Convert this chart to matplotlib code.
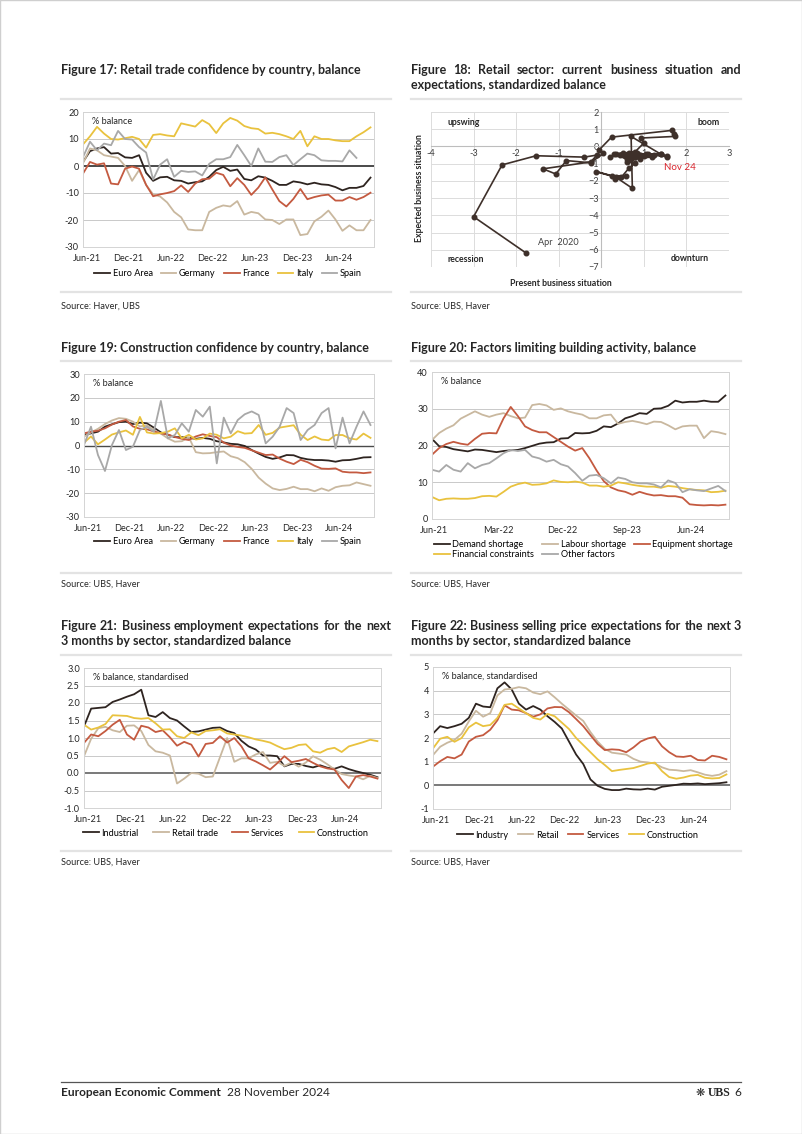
import numpy as np
import matplotlib
matplotlib.use("Agg")
import matplotlib.pyplot as plt
from matplotlib.patches import Rectangle

# ---- data -------------------------------------------------------------
# Figure 17: retail trade confidence (Jun-21 .. Nov-24, monthly)
f17_euro = [1.5, 5.5, 6.5, 7.0, 4.6, 4.8, 3.2, 3.0, 4.0, -2.5, -5.5, -4.2, -4.0, -5.3, -5.5, -6.5, -6.0,
            -5.7, -4.0, -1.5, -0.3, -1.8, -1.3, -4.8, -5.3, -3.8, -4.3, -5.5, -7.0, -7.0, -5.7, -6.1, -6.8,
            -6.2, -6.8, -7.0, -7.8, -9.0, -8.1, -8.1, -7.4, -4.3]
f17_germany = [1.0, 6.5, 5.8, 4.0, 3.5, 3.0, 0.0, -5.5, -1.5, -7.0, -10.5, -11.3, -13.5, -17.0, -19.0, -23.5,
               -23.8, -23.8, -17.0, -15.5, -14.6, -15.0, -13.0, -18.0, -17.0, -17.5, -19.8, -20.0, -21.5,
               -19.8, -19.8, -25.6, -25.2, -20.5, -18.8, -16.5, -19.8, -24.0, -22.0, -23.8, -23.8, -20.0]
f17_france = [-2.8, 1.5, 0.5, 1.0, -6.5, -6.8, -1.0, -0.2, -1.0, -7.0, -11.2, -10.5, -10.0, -9.3, -7.2, -9.6,
              -6.5, -4.9, -4.7, -2.5, -3.3, -7.5, -4.5, -7.0, -10.7, -8.0, -4.2, -8.7, -13.0, -15.0, -12.2,
              -8.5, -12.3, -11.5, -10.9, -10.6, -12.8, -12.8, -11.5, -12.5, -11.5, -9.9]
f17_italy = [8.0, 11.0, 14.5, 12.0, 10.0, 9.8, 10.3, 10.8, 10.0, 6.8, 11.5, 11.8, 11.3, 11.0, 15.8, 15.2, 14.6,
             17.0, 15.5, 12.2, 15.8, 17.8, 16.8, 14.8, 14.0, 13.7, 12.0, 12.3, 11.8, 11.0, 10.0, 13.0, 7.3,
             11.0, 10.0, 10.0, 9.5, 9.2, 9.2, 11.0, 12.5, 14.3]
f17_spain = [3.3, 9.0, 5.8, 8.3, 7.7, 13.0, 10.0, 9.8, 7.0, 5.0, -5.0, 0.5, 2.5, -4.0, -1.8, -2.2, -2.0, -3.5,
             0.8, 2.5, 2.5, 3.3, 7.8, 4.0, 0.0, 6.5, 1.6, 1.5, 3.3, 4.0, 0.3, 2.5, 4.6, 4.0, 2.1, 1.9, 1.9,
             1.7, 5.8, 3.0]

# Figure 18: retail sector, present (x) vs expected (y) business situation, Apr-20 .. Nov-24
f18_present = [-1.76, -3.0, -2.33, -1.53, -0.4, -0.1, -0.25, -1.37, -1.07, -0.82, -0.25, 0.05, -0.05,
               0.24, 1.65, 1.7, 1.72, 0.94, 1.0, 0.8, 0.3, 0.5, 1.4, 0.7, 0.73, 0.35, -0.12, 0.25, 0.59,
               0.33, 0.47, 0.65, 0.8, 0.6, 0.7, 0.75, 1.0, 0.8, 0.6, 0.45, 0.2, 0.65, 0.9, 1.1, 1.2, 0.9,
               0.55, 0.35, 0.5, 0.8, 0.85, 1.05, 1.4, 1.55, 1.25, 1.55]
f18_expected = [-6.2, -4.08, -1.07, -0.54, -0.62, -0.5, -0.9, -1.3, -1.6, -0.82, -0.95, -0.4, -0.2, 0.54,
                0.93, 0.75, 0.58, 0.49, 0.2, -0.3, -0.45, -0.4, -0.45, 0.58, -2.43, -1.8, -1.46, -1.7,
                -1.71, -1.88, -1.79, -1.26, -0.97, -0.9, -0.75, -0.5, -0.55, -0.6, -0.7, -0.5, -0.6, -0.4,
                -0.5, -0.45, -0.6, -0.7, -0.55, -0.45, -0.5, -0.6, -0.4, -0.45, -0.45, -0.55, -0.5, -0.6]

# Figure 19: construction confidence
f19_euro = [4.4, 5.1, 5.8, 7.9, 8.9, 9.8, 10.0, 9.0, 9.6, 9.3, 7.5, 5.5, 4.5, 3.5, 3.5, 3.2, 2.8, 3.2, 2.8,
            1.8, 1.3, 0.7, 0.5, -0.2, -1.9, -3.4, -4.8, -5.6, -5.0, -4.0, -4.1, -5.2, -5.8, -6.1, -6.1,
            -6.3, -6.8, -6.2, -6.1, -5.6, -5.0, -4.9]
f19_germany = [3.7, 5.5, 7.0, 9.0, 10.5, 11.5, 11.2, 10.0, 8.0, 8.5, 6.5, 5.0, 3.0, 1.6, 1.8, 3.5, -2.8, -3.3,
               -3.2, -2.8, -2.5, -4.5, -5.3, -7.0, -9.8, -13.5, -16.0, -18.0, -18.7, -18.2, -17.3, -18.3,
               -18.3, -19.2, -18.0, -19.0, -17.5, -16.9, -16.7, -15.5, -16.2, -16.9]
f19_france = [5.1, 5.8, 6.2, 7.2, 8.8, 10.0, 10.7, 8.0, 7.0, 6.8, 5.9, 5.1, 4.6, 3.6, 2.8, 2.3, 3.8, 4.7, 4.0,
              3.5, 1.2, 0.0, -0.6, -1.0, -2.0, -3.0, -4.0, -3.8, -5.5, -6.8, -7.8, -6.0, -7.0, -8.5, -9.7,
              -9.8, -9.6, -11.0, -11.3, -11.3, -11.6, -11.3]
f19_italy = [1.2, 3.8, 0.5, 2.5, 4.6, 5.5, 6.3, 4.5, 12.0, 5.5, 5.0, 5.2, 5.8, 7.2, 3.0, 4.5, 2.5, 3.0, 5.0,
             4.5, 3.0, 3.7, 6.0, 5.0, 5.2, 8.6, 4.5, 5.3, 7.5, 8.0, 8.5, 4.5, 2.3, 3.8, 2.5, 2.2, 4.4, 4.4,
             3.0, 2.5, 5.0, 3.2]
f19_spain = [0.2, 7.9, -4.0, -10.7, 0.2, 6.5, -1.9, -0.5, 6.5, 7.9, 5.8, 18.7, 3.0, 4.4, 9.3, 5.8, 14.9, 12.1,
             16.3, -7.5, 11.7, 5.1, 10.7, 13.1, 14.3, 12.8, 0.9, 3.7, 7.9, 15.7, 13.6, 2.3, 6.5, 8.6, 13.6,
             15.7, -1.2, 11.7, 0.9, 7.9, 14.3, 8.6]

# Figure 20: factors limiting building activity
f20_demand = [21.8, 19.8, 19.6, 19.0, 18.7, 18.4, 18.9, 18.8, 18.5, 18.2, 18.5, 18.7, 18.8, 19.3, 19.9, 20.5,
              20.8, 20.9, 21.9, 22.0, 23.4, 23.3, 23.4, 24.0, 25.2, 25.0, 26.0, 27.4, 28.0, 28.8, 28.6, 30.0,
              30.1, 30.8, 32.2, 31.7, 31.9, 31.9, 32.2, 31.9, 31.9, 33.6]
f20_labour = [21.5, 23.4, 24.6, 25.5, 27.3, 28.3, 29.3, 28.4, 27.8, 28.4, 28.8, 28.0, 27.4, 27.6, 31.0, 31.3,
              30.9, 29.7, 30.1, 29.3, 28.8, 28.4, 27.4, 27.4, 28.2, 28.4, 25.9, 26.4, 26.7, 26.3, 25.8, 26.5,
              26.4, 25.5, 24.4, 25.2, 25.4, 25.4, 22.0, 23.9, 23.6, 23.1]
f20_equipment = [17.5, 19.3, 20.4, 21.0, 20.5, 20.2, 21.8, 23.2, 23.4, 23.3, 27.4, 30.5, 28.0, 25.2, 24.2,
                 23.6, 23.6, 22.3, 21.0, 19.7, 18.6, 19.3, 16.5, 13.2, 10.3, 8.6, 7.8, 7.4, 6.6, 7.4, 6.8,
                 6.4, 6.5, 6.2, 6.2, 5.8, 4.0, 3.8, 3.7, 3.8, 3.7, 3.9]
f20_financial = [6.0, 5.1, 5.5, 5.6, 5.5, 5.5, 5.7, 6.2, 6.3, 6.1, 7.4, 8.8, 9.5, 9.9, 9.3, 9.4, 9.7, 10.5,
                 10.1, 10.0, 10.2, 9.9, 9.1, 9.1, 8.8, 9.1, 10.0, 9.7, 9.3, 9.0, 8.8, 8.8, 8.5, 9.0, 8.8,
                 8.4, 8.1, 7.9, 7.8, 7.3, 7.4, 7.7]
f20_other = [13.4, 12.9, 14.7, 13.4, 12.9, 15.2, 13.8, 14.7, 15.2, 16.5, 17.9, 18.8, 18.5, 18.8, 17.0, 16.5,
             15.6, 16.1, 14.9, 14.3, 12.5, 10.4, 11.8, 12.0, 11.1, 9.7, 11.3, 10.9, 10.0, 9.7, 9.7, 9.4,
             8.6, 10.5, 9.8, 7.3, 8.1, 7.8, 7.6, 8.3, 9.0, 7.6]

# Figure 21: employment expectations, standardised
f21_industrial = [1.33, 1.84, 1.86, 1.88, 2.03, 2.1, 2.18, 2.25, 2.38, 1.65, 1.6, 1.74, 1.57, 1.5, 1.33, 1.17,
                  1.19, 1.24, 1.29, 1.3, 1.2, 1.14, 0.92, 0.76, 0.67, 0.5, 0.5, 0.48, 0.19, 0.26, 0.26, 0.2,
                  0.16, 0.22, 0.15, 0.12, 0.19, 0.11, 0.05, 0.0, -0.05, -0.12]
f21_retail = [0.48, 0.98, 1.28, 1.32, 1.22, 1.17, 1.35, 1.36, 1.2, 0.8, 0.62, 0.58, 0.5, -0.3, -0.16, 0.0,
              -0.02, -0.12, -0.1, 0.45, 1.0, 0.32, 0.42, 0.42, 0.53, 0.6, 0.29, 0.32, 0.2, 0.3, 0.18, 0.3,
              0.48, 0.38, 0.25, 0.1, -0.03, -0.07, -0.1, -0.18, -0.08, -0.14]
f21_services = [0.86, 1.1, 1.05, 1.2, 1.38, 1.52, 1.1, 0.95, 1.35, 1.3, 1.17, 1.22, 1.02, 0.78, 0.89, 0.81,
                0.47, 0.83, 0.86, 1.05, 0.87, 1.0, 0.76, 0.42, 0.33, 0.22, 0.1, 0.28, 0.48, 0.31, 0.35, 0.4,
                0.29, 0.19, 0.13, 0.1, -0.2, -0.43, -0.1, -0.06, -0.1, -0.16]
f21_construction = [1.38, 1.24, 1.3, 1.4, 1.65, 1.64, 1.63, 1.57, 1.55, 1.57, 1.42, 1.24, 1.25, 1.05, 1.0,
                    1.16, 1.08, 1.2, 1.22, 1.25, 1.13, 1.1, 1.07, 1.02, 0.96, 0.92, 0.87, 0.77, 0.68, 0.72,
                    0.8, 0.82, 0.62, 0.58, 0.68, 0.72, 0.6, 0.76, 0.82, 0.88, 0.95, 0.91]

# Figure 22: selling price expectations, standardised
f22_industry = [2.19, 2.5, 2.42, 2.5, 2.6, 2.85, 3.45, 3.33, 3.3, 4.1, 4.35, 4.05, 3.45, 3.2, 3.35, 3.2, 2.92,
                2.68, 2.4, 1.85, 1.3, 0.9, 0.25, -0.02, -0.15, -0.2, -0.2, -0.14, -0.17, -0.18, -0.14,
                -0.18, -0.06, -0.02, 0.02, 0.07, 0.06, 0.08, 0.05, 0.07, 0.09, 0.13]
f22_retail = [1.28, 1.63, 1.8, 1.92, 2.18, 2.7, 3.15, 2.9, 3.05, 3.8, 4.05, 4.08, 4.15, 4.1, 3.92, 3.85, 3.97,
              3.72, 3.45, 3.2, 2.95, 2.72, 2.25, 1.85, 1.54, 1.38, 1.34, 1.3, 1.12, 1.0, 0.97, 0.92, 0.76,
              0.66, 0.64, 0.6, 0.64, 0.55, 0.45, 0.4, 0.45, 0.6]
f22_services = [0.79, 1.02, 1.2, 1.14, 1.3, 1.85, 2.05, 2.12, 2.35, 2.75, 3.38, 3.2, 3.17, 3.05, 2.9, 3.0,
                3.25, 3.31, 3.3, 3.09, 2.8, 2.5, 2.12, 1.75, 1.49, 1.52, 1.5, 1.4, 1.6, 1.85, 1.98, 2.05,
                1.65, 1.4, 1.22, 1.2, 1.25, 1.07, 1.05, 1.25, 1.2, 1.1]
f22_construction = [1.56, 1.97, 2.05, 1.84, 2.0, 2.45, 2.65, 2.5, 2.55, 2.85, 3.4, 3.45, 3.25, 3.05, 2.85,
                    2.78, 3.02, 2.92, 2.65, 2.38, 2.0, 1.7, 1.4, 1.1, 0.86, 0.6, 0.65, 0.69, 0.73, 0.82,
                    0.92, 0.96, 0.6, 0.35, 0.28, 0.33, 0.41, 0.44, 0.32, 0.29, 0.31, 0.46]

half_year_labels = ["Jun-21", "Dec-21", "Jun-22", "Dec-22", "Jun-23", "Dec-23", "Jun-24"]
nine_month_labels = ["Jun-21", "Mar-22", "Dec-22", "Sep-23", "Jun-24"]

# ---- style --------------------------------------------------------------
BLACK, TAN, RED, YEL, GRAY = "#2e2420", "#c9b89f", "#c45a40", "#e9c23e", "#a8a8a8"
BROWN = "#3e302a"
TXT = "#262626"
BODY = ["Lato", "DejaVu Sans"]
HEAD = ["Lato", "DejaVu Sans"]
plt.rcParams["font.family"] = BODY
FS = 6.6

W, H = 802, 1134
fig = plt.figure(figsize=(W / 100, H / 100), dpi=100)
fig.patch.set_facecolor("white")
rend = fig.canvas.get_renderer()


def fx(x):
    return x / W


def fy(y):
    return 1 - y / H


def box(x0, y0, x1, y1):
    return [x0 / W, 1 - y1 / H, (x1 - x0) / W, (y1 - y0) / H]


def hline(x0, x1, y, color="#e3e3e3", lw=1.6):
    fig.add_artist(plt.Line2D([fx(x0), fx(x1)], [fy(y), fy(y)], color=color, lw=lw))


# title size chosen so that the Figure 17 title spans the same width as in the page
probe = fig.text(0, 0, "Figure 17: Retail trade confidence by country, balance", family=HEAD,
                 fontsize=10, fontweight="bold")
TSIZE = 10 * 302 / probe.get_window_extent(rend).width
probe.remove()


def justified(words, x0, x1, y, **kw):
    texts = [fig.text(0, fy(y), w, va="center", **kw) for w in words]
    widths = [t.get_window_extent(rend).width for t in texts]
    gap = (x1 - x0 - sum(widths)) / (len(words) - 1)
    x = x0
    for t, w in zip(texts, widths):
        t.set_x(fx(x))
        x += w + gap


def title(lines, x0, x1, y0, justify_first=False):
    kw = dict(family=HEAD, fontsize=TSIZE, fontweight="bold", color=TXT)
    for k, line in enumerate(lines):
        y = y0 + 15 * k
        if justify_first and k == 0 and len(lines) > 1:
            justified(line.split(" "), x0, x1, y, **kw)
        else:
            fig.text(fx(x0), fy(y), line, va="center", **kw)


def source(text, x0, y):
    fig.text(fx(x0), fy(y), text, fontsize=FS, color=TXT, va="center")


def ts_chart(rect, series, ylim, yticks, yfmt, unit, labels, step, offset, legend_at,
             ncol, legend_loc="center", legend_order=None, colspace=1.0, zero=True,
             zero_color="#4a4a4a", zero_lw=1.4):
    ax = fig.add_axes(box(*rect))
    n = len(series[0][1])
    for name, vals, col in series:
        ax.plot(np.arange(len(vals)), vals, color=col, lw=1.3, label=name, solid_joinstyle="round")
    ax.set_xlim(0, n - 0.5)
    ax.set_ylim(*ylim)
    ax.set_yticks(yticks)
    ax.set_yticklabels([yfmt.format(v) for v in yticks])
    for v in yticks:
        if zero and v == 0:
            ax.axhline(v, color=zero_color, lw=zero_lw, zorder=1)
        else:
            ax.axhline(v, color="#c9c9c9", lw=0.7, zorder=0)
    ax.set_xticks([step * k + offset for k in range(len(labels))])
    ax.set_xticklabels(labels)
    for s in ax.spines.values():
        s.set_color("#d4d4d4")
        s.set_linewidth(0.7)
    ax.tick_params(length=0, labelsize=FS, colors=TXT)
    ax.tick_params(axis="y", pad=3)
    ax.tick_params(axis="x", pad=5)
    ax.text(0.03, 0.965, unit, transform=ax.transAxes, fontsize=FS, color=TXT, va="top")
    handles, names = ax.get_legend_handles_labels()
    if legend_order is not None:
        handles = [handles[i] for i in legend_order]
        names = [names[i] for i in legend_order]
    fig.legend(handles, names, loc=legend_loc, bbox_to_anchor=legend_at, ncol=ncol,
               frameon=False, fontsize=FS, handlelength=1.7, handletextpad=0.3, columnspacing=colspace,
               labelspacing=0.1, borderaxespad=0, borderpad=0)
    return ax


# ---- page furniture -------------------------------------------------------
fig.add_artist(Rectangle((0, 0), 1, 1, transform=fig.transFigure, fill=False, ec="#cfcfcf", lw=1))

LX0, LX1, RX0, RX1 = 61, 391, 411, 741

title(["Figure 17: Retail trade confidence by country, balance"], LX0, LX1, 70)
title(["Figure 18: Retail sector: current business situation and",
       "expectations, standardized balance"], RX0, RX1, 70, justify_first=True)
title(["Figure 19: Construction confidence by country, balance"], LX0, LX1, 348)
title(["Figure 20: Factors limiting building activity, balance"], RX0, RX1, 348)
title(["Figure 21: Business employment expectations for the next",
       "3 months by sector, standardized balance"], LX0, LX1, 626, justify_first=True)
title(["Figure 22: Business selling price expectations for the next 3",
       "months by sector, standardized balance"], RX0, RX1, 626, justify_first=True)

for y in (99, 292, 361, 573, 655, 851):
    hline(LX0, LX1, y)
    hline(RX0, RX1, y)

source("Source: Haver, UBS", LX0, 306)
source("Source: UBS, Haver", RX0, 306)
source("Source: UBS, Haver", LX0, 584)
source("Source: UBS, Haver", RX0, 584)
source("Source: UBS, Haver", LX0, 862)
source("Source: UBS, Haver", RX0, 862)

# footer
FOOT = TSIZE * 0.95
hline(LX0, RX1, 1082, color="#555555", lw=0.9)
t = fig.text(fx(LX0), fy(1093), "European Economic Comment", family=HEAD, fontsize=FOOT,
             fontweight="bold", color=TXT, va="center")
wbold = t.get_window_extent(rend).width
fig.text(fx(LX0 + wbold + 6), fy(1093), "28 November 2024", family=HEAD, fontsize=FOOT, color=TXT, va="center")
fig.text(fx(RX1), fy(1093), "6", family=HEAD, fontsize=FOOT, color=TXT, va="center", ha="right")
fig.text(fx(RX1 - 10), fy(1093), "UBS", family=["Liberation Serif", "DejaVu Serif"], fontsize=8.5,
         fontweight="bold", color=TXT, va="center", ha="right")
fig.text(fx(RX1 - 36), fy(1093), "\u274b", family=["DejaVu Sans"], fontsize=8, color=TXT, va="center", ha="right")

# ---- Figure 17 --------------------------------------------------------------
ts_chart((83, 112, 374, 247),
         [("Euro Area", f17_euro, BLACK), ("Germany", f17_germany, TAN), ("France", f17_france, RED),
          ("Italy", f17_italy, YEL), ("Spain", f17_spain, GRAY)],
         (-30, 20), [20, 10, 0, -10, -20, -30], "{:d}", "% balance", half_year_labels, 6, 0.5,
         (fx(228), fy(274)), 5, colspace=0.9)

# ---- Figure 18 --------------------------------------------------------------
ax = fig.add_axes(box(431, 112, 729, 267))
ax.plot(f18_present, f18_expected, color=BROWN, lw=1.2, marker="o", ms=3.3, mfc=BROWN, mec=BROWN, zorder=3)
ax.set_xlim(-4, 3)
ax.set_ylim(-7, 2)
ax.set_xticks(range(-4, 4))
ax.set_yticks(range(-7, 3))
ax.set_xticklabels(["-4", "-3", "-2", "-1", "", "1", "2", "3"])
ax.grid(color="#dcdcdc", lw=0.7)
ax.spines["left"].set_position(("data", 0))
ax.spines["bottom"].set_position(("data", 0))
ax.spines["top"].set_visible(False)
ax.spines["right"].set_visible(False)
ax.spines["left"].set_color("#bdbdbd")
ax.spines["bottom"].set_color("#bdbdbd")
ax.tick_params(length=0, labelsize=FS, colors="#404040", pad=2)
ax.set_axisbelow(True)
for s, xa, ya in [("upswing", 0.11, 0.935), ("boom", 0.93, 0.93), ("recession", 0.115, 0.05),
                  ("downturn", 0.87, 0.055)]:
    ax.text(xa, ya, s, transform=ax.transAxes, fontsize=6.3, fontweight="bold", color=TXT, ha="center", va="center")
ax.text(1.85, -1.25, "Nov 24", fontsize=7, color="#d9262e", ha="center", va="center")
ax.text(-1.0, -5.6, "Apr  2020", fontsize=FS, color="#404040", ha="center", va="center")
fig.text(fx(420), fy(188), "Expected business situation", fontsize=6.3, fontweight="bold", color=TXT,
         rotation=90, ha="center", va="center")
fig.text(fx(561), fy(283), "Present business situation", fontsize=6.3, fontweight="bold", color=TXT,
         ha="center", va="center")

# ---- Figure 19 --------------------------------------------------------------
ts_chart((84, 374, 374, 517),
         [("Euro Area", f19_euro, BLACK), ("Germany", f19_germany, TAN), ("France", f19_france, RED),
          ("Italy", f19_italy, YEL), ("Spain", f19_spain, GRAY)],
         (-30, 30), [30, 20, 10, 0, -10, -20, -30], "{:d}", "% balance", half_year_labels, 6, 0.5,
         (fx(228), fy(542)), 5, colspace=0.9, zero_lw=1.0)

# ---- Figure 20 --------------------------------------------------------------
ts_chart((432, 372, 729, 519),
         [("Demand shortage", f20_demand, BLACK), ("Labour shortage", f20_labour, TAN),
          ("Equipment shortage", f20_equipment, RED), ("Financial constraints", f20_financial, YEL),
          ("Other factors", f20_other, GRAY)],
         (0, 40), [40, 30, 20, 10, 0], "{:d}", "% balance", nine_month_labels, 9, 0.25,
         (fx(434), fy(540)), 3, legend_loc="upper left", legend_order=[0, 3, 1, 4, 2], colspace=0.9, zero=False)

# ---- Figure 21 --------------------------------------------------------------
ts_chart((84, 668, 381, 808),
         [("Industrial", f21_industrial, BLACK), ("Retail trade", f21_retail, TAN),
          ("Services", f21_services, RED), ("Construction", f21_construction, YEL)],
         (-1.0, 3.0), [3.0, 2.5, 2.0, 1.5, 1.0, 0.5, 0.0, -0.5, -1.0], "{:.1f}", "% balance, standardised",
         half_year_labels, 6, 0.5, (fx(226), fy(833)), 4, colspace=1.6, zero_color="#6e6e6e", zero_lw=1.3)

# ---- Figure 22 --------------------------------------------------------------
ts_chart((433, 667, 730, 809),
         [("Industry", f22_industry, BLACK), ("Retail", f22_retail, TAN),
          ("Services", f22_services, RED), ("Construction", f22_construction, YEL)],
         (-1, 5), [5, 4, 3, 2, 1, 0, -1], "{:d}", "% balance, standardised",
         half_year_labels, 6, 0.4, (fx(578), fy(835)), 4, colspace=1.0, zero_color="#6e6e6e", zero_lw=1.3)

fig.savefig("out.png", dpi=100, facecolor="white")
